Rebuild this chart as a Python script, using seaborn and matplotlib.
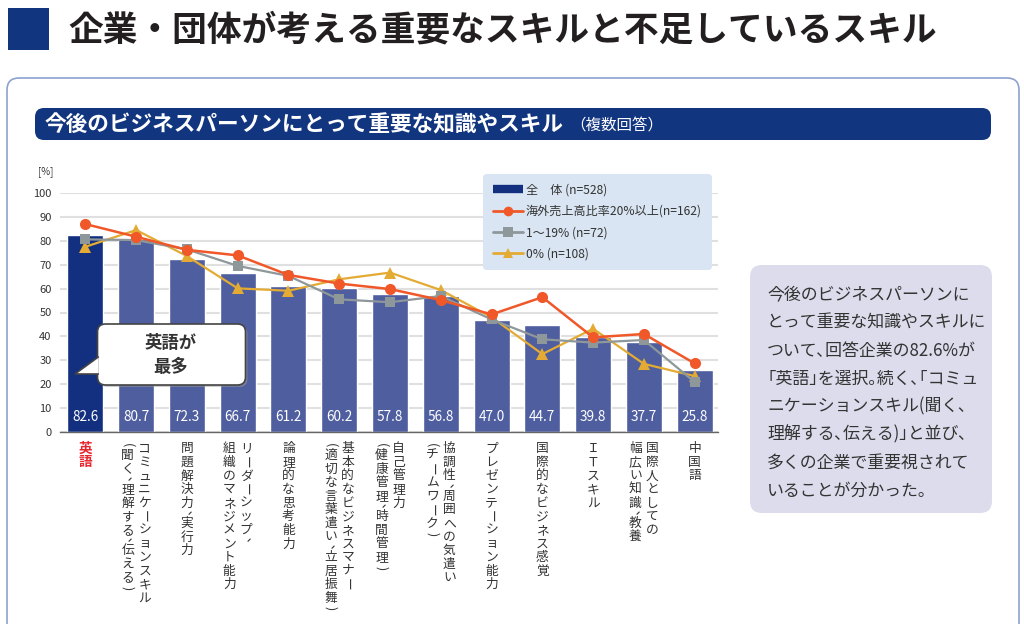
import numpy as np
import pandas as pd
import matplotlib
matplotlib.use("Agg")
import matplotlib.pyplot as plt
import seaborn as sns
from matplotlib.patches import FancyBboxPatch, Polygon, Rectangle
from matplotlib.lines import Line2D

# ---------------- data ----------------
categories = [
    "英語", "コミュニケーションスキル", "問題解決力、実行力", "リーダーシップ、組織のマネジメント能力",
    "論理的な思考能力", "基本的なビジネスマナー", "自己管理力", "協調性、周囲への気遣い",
    "プレゼンテーション能力", "国際的なビジネス感覚", "ＩＴスキル", "国際人としての幅広い知識、教養", "中国語",
]
label_columns = [
    ["英語"],
    ["コミュニケーションスキル", "（聞く、理解する、伝える）"],
    ["問題解決力、実行力"],
    ["リーダーシップ、", "組織のマネジメント能力"],
    ["論理的な思考能力"],
    ["基本的なビジネスマナー", "（適切な言葉遣い、立居振舞）"],
    ["自己管理力", "（健康管理、時間管理）"],
    ["協調性、周囲への気遣い", "（チームワーク）"],
    ["プレゼンテーション能力"],
    ["国際的なビジネス感覚"],
    ["ＩＴスキル"],
    ["国際人としての", "幅広い知識、教養"],
    ["中国語"],
]
total = [82.6, 80.7, 72.3, 66.7, 61.2, 60.2, 57.8, 56.8, 47.0, 44.7, 39.8, 37.7, 25.8]
overseas20 = [87.0, 81.7, 76.2, 73.9, 65.7, 62.1, 59.8, 55.2, 49.2, 56.4, 39.6, 41.0, 28.7]
overseas1_19 = [80.6, 80.3, 76.4, 69.5, 65.3, 55.5, 54.3, 56.9, 47.1, 38.8, 37.4, 38.5, 20.9]
overseas0 = [77.5, 84.5, 73.6, 60.1, 59.1, 63.9, 66.7, 59.4, 48.0, 32.6, 43.2, 28.5, 23.4]
legend_labels = ["全　体 (n=528)", "海外売上高比率20%以上(n=162)", "1～19% (n=72)", "0% (n=108)"]
y_ticks = list(range(0, 101, 10))

title = "企業・団体が考える重要なスキルと不足しているスキル"
subtitle = "今後のビジネスパーソンにとって重要な知識やスキル"
subtitle_note = "（複数回答）"
callout = "英語が\n最多"
note_lines = [
    "今後のビジネスパーソンに",
    "とって重要な知識やスキルに",
    "ついて、回答企業の82.6%が",
    "「英語」を選択。続く、「コミュ",
    "ニケーションスキル（聞く、",
    "理解する、伝える）」と並び、",
    "多くの企業で重要視されて",
    "いることが分かった。",
]

# ---------------- style ----------------
NAVY = "#12307f"
BAR = "#4f5e9f"
ORANGE = "#f0582a"
GRAY = "#8e979a"
GOLD = "#e3ab34"
TXT = "#333333"

sns.set_theme(style="white")
plt.rcParams["font.family"] = ["Noto Sans CJK JP", "DejaVu Sans"]

W, H = 1024, 624
fig = plt.figure(figsize=(W / 100, H / 100), dpi=100)
fig.patch.set_facecolor("white")

# background layer (pixel coordinates)
bg = fig.add_axes([0, 0, 1, 1], zorder=0)
bg.set_xlim(0, W)
bg.set_ylim(H, 0)
bg.axis("off")

bg.add_patch(Rectangle((8, 8), 41, 42, color="#12357f", lw=0))
bg.text(68, 30, title, fontsize=25, fontweight="bold", color="#231f20", va="center", ha="left")

bg.add_patch(FancyBboxPatch((7, 78), 1012, 580, boxstyle="round,pad=0,rounding_size=12",
                            facecolor="white", edgecolor="#8ea2cf", lw=1.2))
bg.add_patch(FancyBboxPatch((35, 108), 956, 32, boxstyle="round,pad=0,rounding_size=9",
                            facecolor="#12357f", edgecolor="none"))
bg.text(45, 125, subtitle, fontsize=15.6, fontweight="bold", color="white", va="center", ha="left")
bg.text(570, 126, subtitle_note, fontsize=11.2, color="white", va="center", ha="left")

# proportional (half-width) punctuation as in the printed text
prop_map = {"、": "､", "。": "｡", "「": "｢", "」": "｣", "（": "(", "）": ")"}
bg.add_patch(FancyBboxPatch((750, 265), 242, 248, boxstyle="round,pad=0,rounding_size=12",
                            facecolor="#dcdcec", edgecolor="none"))
for k, line in enumerate(note_lines):
    shown = "".join(prop_map.get(c, c) for c in line)
    bg.text(767, 295 + k * 27.95, shown, fontsize=12.2, color=TXT, va="center", ha="left")

bg.text(53, 172, "[%]", fontsize=7, color=TXT, va="center", ha="right")

# ---------------- chart ----------------
ax = fig.add_axes([60 / W, 192 / H, 658 / W, 239 / H], zorder=2)
ax.set_facecolor("none")

df = pd.DataFrame({"skill": categories, "total": total})
bar_colors = [NAVY] + [BAR] * (len(categories) - 1)
sns.barplot(data=df, x="skill", y="total", hue="skill", palette=bar_colors, legend=False,
            width=0.71, saturation=1, ax=ax, zorder=2)

xpos = np.arange(len(categories))
sns.lineplot(x=xpos, y=overseas0, ax=ax, color=GOLD, marker="^", markersize=8,
             markeredgewidth=0, lw=1.6, zorder=3, legend=False)
sns.lineplot(x=xpos, y=overseas1_19, ax=ax, color=GRAY, marker="s", markersize=7,
             markeredgewidth=0, lw=1.6, zorder=4, legend=False)
sns.lineplot(x=xpos, y=overseas20, ax=ax, color=ORANGE, marker="o", markersize=8,
             markeredgewidth=0, lw=1.8, zorder=5, legend=False)
for ln in ax.lines:
    ln.set_clip_on(False)

for i, v in enumerate(total):
    ax.text(i, 6.3, f"{v:.1f}", ha="center", va="center", color="white", fontsize=9.8, zorder=6)

ax.set_xlim(-0.5, 12.46)
ax.set_ylim(0, 100)
ax.set_yticks(y_ticks)
ax.set_yticklabels([str(t) for t in y_ticks], fontsize=8, color=TXT)
ax.tick_params(axis="y", length=0, pad=6)
ax.set_xticks(xpos)
ax.set_xticklabels([])
ax.tick_params(axis="x", which="major", length=0)
ax.set_xticks(np.arange(-0.5, 12.5, 1.0), minor=True)
ax.tick_params(axis="x", which="minor", direction="in", length=3, color="#888888", width=0.8)
ax.set_xlabel("")
ax.set_ylabel("")
ax.yaxis.grid(True, color="#e0e0e0", lw=1.5, zorder=0)
ax.set_axisbelow(True)
for s in ["left", "right", "top"]:
    ax.spines[s].set_visible(False)
ax.spines["bottom"].set_color("#666666")
ax.spines["bottom"].set_linewidth(1.0)

# vertical (tategaki) category labels: glyph, rotation, height in cells, x nudge (px)
def vertical_glyph(ch):
    if ch == "（":
        return "(", -90, 0.5, 0.0
    if ch == "）":
        return ")", -90, 0.5, 0.0
    if ch == "、":
        return "､", -90, 0.5, 3.5
    if ch == "ー":
        return "ー", -90, 1.0, 0.0
    return ch, 0, 1.0, 0.0

step_pt = 13.6 * 0.72
top_pt = 10 * 0.72
xtrans = ax.get_xaxis_transform()
for i, cols in enumerate(label_columns):
    n = len(cols)
    offsets = [0.0] if n == 1 else [8.5 * 0.72, -8.5 * 0.72]
    is_first = i == 0
    for col, dx in zip(cols, offsets):
        cum = 0.0
        for ch in col:
            glyph, rot, unit, nudge = vertical_glyph(ch)
            yoff = -top_pt - (cum + unit / 2) * step_pt
            cum += unit
            ax.annotate(glyph, xy=(i, 0), xycoords=xtrans,
                        xytext=(dx + nudge * 0.72, yoff), textcoords="offset points",
                        ha="center", va="center", rotation=rot,
                        fontsize=9.2 if not is_first else 9.8,
                        color="#e8262e" if is_first else TXT,
                        fontweight="bold" if is_first else "normal", annotation_clip=False)

# legend
handles = [
    Line2D([], [], color=NAVY, lw=6, solid_capstyle="butt"),
    Line2D([], [], color=ORANGE, lw=2, marker="o", markersize=7, markeredgewidth=0),
    Line2D([], [], color=GRAY, lw=2, marker="s", markersize=6.5, markeredgewidth=0),
    Line2D([], [], color=GOLD, lw=2, marker="^", markersize=7, markeredgewidth=0),
]
leg = fig.legend(handles, legend_labels, loc="upper left",
                 bbox_to_anchor=(483 / W, 1 - 174 / H), bbox_transform=fig.transFigure,
                 frameon=True, fancybox=True, facecolor="#d9e5f2", edgecolor="none", framealpha=1,
                 fontsize=8.7, handlelength=2.5, handletextpad=0.25, labelspacing=0.68,
                 borderpad=0.8, borderaxespad=0)
for t in leg.get_texts():
    t.set_color(TXT)
leg.get_frame().set_boxstyle("round,pad=0,rounding_size=0.3")

# ---------------- callout ----------------
fg = fig.add_axes([0, 0, 1, 1], zorder=6)
fg.set_facecolor("none")
fg.set_xlim(0, W)
fg.set_ylim(H, 0)
fg.axis("off")
fg.add_patch(FancyBboxPatch((99.5, 326), 148, 61, boxstyle="round,pad=0,rounding_size=8",
                            facecolor="#9a9a9a", edgecolor="none", alpha=0.5))
fg.add_patch(FancyBboxPatch((97.5, 324), 148, 61, boxstyle="round,pad=0,rounding_size=8",
                            facecolor="white", edgecolor="#444444", lw=1.2))
fg.add_patch(Polygon([(98.3, 357), (75, 374), (98.3, 374)], closed=True, facecolor="white",
                     edgecolor="none"))
fg.plot([98.3, 75, 98.3], [357, 374, 374], color="#444444", lw=1.2, solid_joinstyle="miter")
fg.text(171, 355, callout, fontsize=12.5, fontweight="bold", color="#333333",
        ha="center", va="center", linespacing=1.45)

fig.savefig("out.png", dpi=100, facecolor="white")
